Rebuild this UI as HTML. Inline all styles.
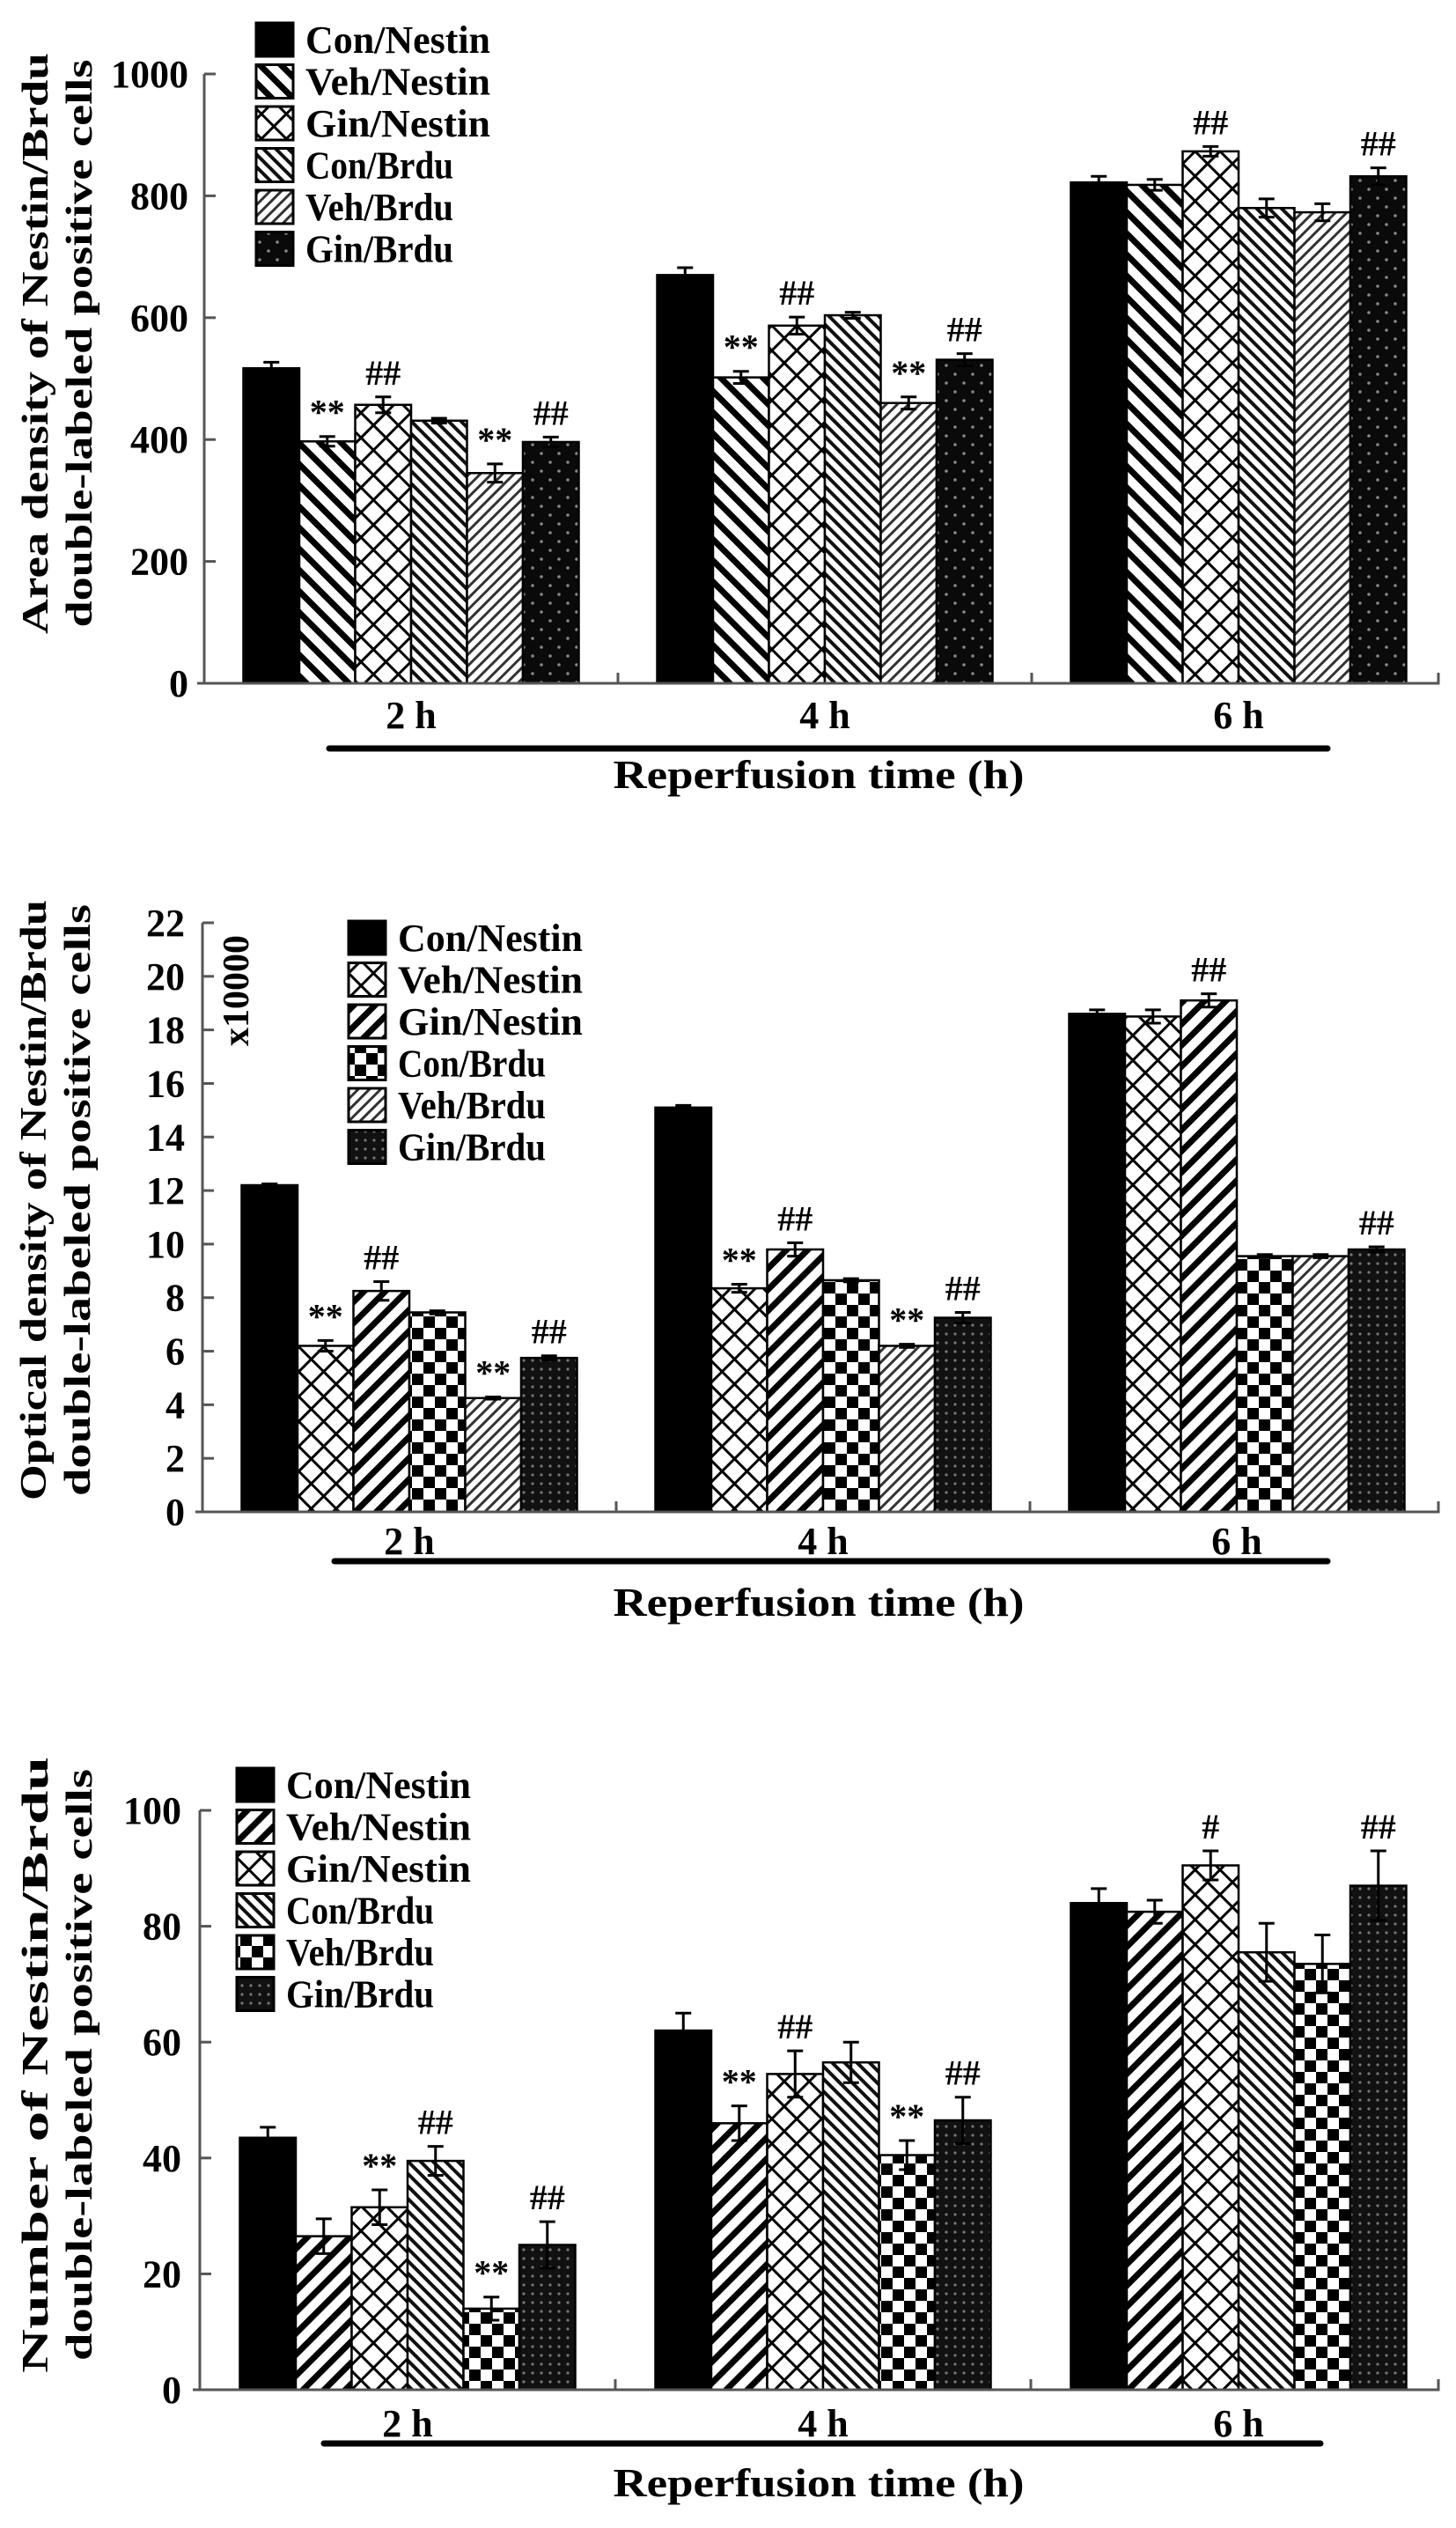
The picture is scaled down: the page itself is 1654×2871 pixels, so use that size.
<!DOCTYPE html>
<html><head><meta charset="utf-8"><style>
html,body{margin:0;padding:0;background:#fff;}
svg{display:block;}
text{font-family:"Liberation Serif",serif;font-weight:bold;fill:#000;}
</style></head>
<body>
<svg id="fig" xmlns="http://www.w3.org/2000/svg" width="1654" height="2871" viewBox="0 0 1654 2871">
<defs>
  <pattern id="pSolid" patternUnits="userSpaceOnUse" width="10" height="10"><rect width="10" height="10" fill="#000"/></pattern>
  <pattern id="pThickBack" patternUnits="userSpaceOnUse" width="17" height="17" patternTransform="rotate(-45)"><rect width="17" height="17" fill="#fff"/><rect width="7" height="17" fill="#000"/></pattern>
  <pattern id="pThickFwd" patternUnits="userSpaceOnUse" width="17" height="17" patternTransform="rotate(45)"><rect width="17" height="17" fill="#fff"/><rect width="7" height="17" fill="#000"/></pattern>
  <pattern id="pCross" patternUnits="userSpaceOnUse" width="20" height="20" patternTransform="rotate(45)"><rect width="20" height="20" fill="#fff"/><rect width="3" height="20" fill="#000"/><rect width="20" height="3" fill="#000"/></pattern>
  <pattern id="pThinBack" patternUnits="userSpaceOnUse" width="10" height="10" patternTransform="rotate(-45)"><rect width="10" height="10" fill="#fff"/><rect width="4" height="10" fill="#111"/></pattern>
  <pattern id="pThinFwd" patternUnits="userSpaceOnUse" width="9" height="9" patternTransform="rotate(45)"><rect width="9" height="9" fill="#fff"/><rect width="3" height="9" fill="#333"/></pattern>
  <pattern id="pChecker" patternUnits="userSpaceOnUse" width="26" height="26"><rect width="26" height="26" fill="#fff"/><rect width="13" height="13" fill="#000"/><rect x="13" y="13" width="13" height="13" fill="#000"/></pattern>
  <pattern id="pDots" patternUnits="userSpaceOnUse" width="20" height="20"><rect width="20" height="20" fill="#0a0a0a"/><circle cx="5" cy="5" r="1.8" fill="#888"/><circle cx="15" cy="15" r="1.8" fill="#888"/></pattern>
  <pattern id="pDotsDense" patternUnits="userSpaceOnUse" width="10" height="10"><rect width="10" height="10" fill="#111"/><circle cx="5" cy="5" r="1.6" fill="#777"/></pattern>
</defs>
</svg>
<script>
// ---------- shared ----------
const categories = ["2 h", "4 h", "6 h"];
const seriesNames = ["Con/Nestin", "Veh/Nestin", "Gin/Nestin", "Con/Brdu", "Veh/Brdu", "Gin/Brdu"];

// ---------- chart 1: area density ----------
const c1Ticks = [0, 200, 400, 600, 800, 1000];
const c1ConNestin = [517, 670, 822];
const c1VehNestin = [397, 502, 818];
const c1GinNestin = [457, 587, 873];
const c1ConBrdu = [431, 604, 780];
const c1VehBrdu = [345, 460, 773];
const c1GinBrdu = [396, 531, 832];
const c1ErrConNestin = [10, 12, 10];
const c1ErrVehNestin = [8, 10, 9];
const c1ErrGinNestin = [13, 14, 8];
const c1ErrConBrdu = [4, 5, 15];
const c1ErrVehBrdu = [15, 10, 14];
const c1ErrGinBrdu = [8, 10, 14];
const c1MarkConNestin = ["", "", ""];
const c1MarkVehNestin = ["**", "**", ""];
const c1MarkGinNestin = ["##", "##", "##"];
const c1MarkConBrdu = ["", "", ""];
const c1MarkVehBrdu = ["**", "**", ""];
const c1MarkGinBrdu = ["##", "##", "##"];

// ---------- chart 2: optical density ----------
const c2Ticks = [0, 2, 4, 6, 8, 10, 12, 14, 16, 18, 20, 22];
const c2ConNestin = [12.2, 15.1, 18.6];
const c2VehNestin = [6.2, 8.35, 18.5];
const c2GinNestin = [8.25, 9.8, 19.1];
const c2ConBrdu = [7.45, 8.65, 9.55];
const c2VehBrdu = [4.25, 6.2, 9.55];
const c2GinBrdu = [5.75, 7.25, 9.8];
const c2ErrConNestin = [0.05, 0.08, 0.15];
const c2ErrVehNestin = [0.2, 0.15, 0.25];
const c2ErrGinNestin = [0.35, 0.25, 0.25];
const c2ErrConBrdu = [0.06, 0.06, 0.06];
const c2ErrVehBrdu = [0.04, 0.06, 0.06];
const c2ErrGinBrdu = [0.08, 0.2, 0.1];
const c2MarkConNestin = ["", "", ""];
const c2MarkVehNestin = ["**", "**", ""];
const c2MarkGinNestin = ["##", "##", "##"];
const c2MarkConBrdu = ["", "", ""];
const c2MarkVehBrdu = ["**", "**", ""];
const c2MarkGinBrdu = ["##", "##", "##"];

// ---------- chart 3: number of cells ----------
const c3Ticks = [0, 20, 40, 60, 80, 100];
const c3ConNestin = [43.5, 62, 84];
const c3VehNestin = [26.5, 46, 82.5];
const c3GinNestin = [31.5, 54.5, 90.5];
const c3ConBrdu = [39.5, 56.5, 75.5];
const c3VehBrdu = [14, 40.5, 73.5];
const c3GinBrdu = [25, 46.5, 87];
const c3ErrConNestin = [1.8, 3, 2.5];
const c3ErrVehNestin = [3, 3, 2];
const c3ErrGinNestin = [3, 4, 2.5];
const c3ErrConBrdu = [2.5, 3.5, 5];
const c3ErrVehBrdu = [2, 2.5, 5];
const c3ErrGinBrdu = [4, 4, 6];
const c3MarkConNestin = ["", "", ""];
const c3MarkVehNestin = ["", "**", ""];
const c3MarkGinNestin = ["**", "##", "#"];
const c3MarkConBrdu = ["##", "", ""];
const c3MarkVehBrdu = ["**", "**", ""];
const c3MarkGinBrdu = ["##", "##", "##"];

const NS = "http://www.w3.org/2000/svg";
const svg = document.getElementById("fig");
function mk(tag, attrs, parent) {
  const e = document.createElementNS(NS, tag);
  for (const k in attrs) e.setAttribute(k, attrs[k]);
  (parent || svg).appendChild(e);
  return e;
}

function drawChart(cfg) {
  const g = mk("g", {});
  
  
  const x0 = cfg.x0, xEnd = 1634, catW = cfg.catW, barW = 63.5;
  const yScale = v => cfg.yZero - v * (cfg.yZero - cfg.yTop) / cfg.max;
  const groupCenter = i => x0 + catW * (i + 0.5);
  const barX = (gi, si) => groupCenter(gi) - 3 * barW + si * barW;

  cfg.series.forEach((vals, si) => {
    vals.forEach((v, gi) => {
      const x = barX(gi, si), y = yScale(v);
      const r = mk("rect", {x: x, y: y, width: barW, height: cfg.yZero - y, fill: "url(#" + cfg.patterns[si] + ")", stroke: "#000", "stroke-width": 2.5}, g);
      
      
      const e = cfg.errs[si][gi];
      const cx = x + barW / 2;
      const eb = mk("path", {d: "M" + cx + " " + yScale(v - e) + "V" + yScale(v + e) + "M" + (cx - 9) + " " + yScale(v + e) + "H" + (cx + 9) + "M" + (cx - 9) + " " + yScale(v - e) + "H" + (cx + 9), stroke: "#000", "stroke-width": 3, fill: "none"}, g);
      
      
      const m = cfg.marks[si][gi];
      if (m) {
        const t = mk("text", {x: cx, y: yScale(v + e) - 14, "text-anchor": "middle", "font-size": 40}, g);
        t.textContent = m;
        
        
      }
    });
  });

  const ya = mk("path", {d: "M" + x0 + " " + cfg.yTop + "V" + cfg.yZero, stroke: "#555", "stroke-width": 3, fill: "none"}, g);
  
  
  const xa = mk("path", {d: "M" + (x0 - 8) + " " + cfg.yZero + "H" + xEnd + "V" + (cfg.yZero - 12), stroke: "#555", "stroke-width": 3, fill: "none"}, g);
  
  
  for (let i = 1; i < categories.length; i++) {
    const tk = mk("path", {d: "M" + (x0 + catW * i) + " " + cfg.yZero + "v-12", stroke: "#555", "stroke-width": 3}, g);
    
    
  }
  cfg.ticks.forEach(v => {
    const y = yScale(v);
    const tk = mk("path", {d: "M" + x0 + " " + y + "h13", stroke: "#555", "stroke-width": 3}, g);
    
    
    const t = mk("text", {x: cfg.tickRight, y: y + 15, "text-anchor": "end", "font-size": 44}, g);
    t.textContent = v;
    
    
  });
  categories.forEach((c, i) => {
    const t = mk("text", {x: groupCenter(i), y: cfg.catLabelY + 15, "text-anchor": "middle", "font-size": 44}, g);
    t.textContent = c;
    
    
  });
  const bl = mk("path", {d: "M" + cfg.lineX1 + " " + cfg.lineY + "H" + cfg.lineX2, stroke: "#000", "stroke-width": 7, "stroke-linecap": "round"}, g);
  
  
  const xt = mk("text", {x: 930, y: cfg.titleY + 15, "text-anchor": "middle", "font-size": 46, textLength: 467, lengthAdjust: "spacingAndGlyphs"}, g);
  xt.textContent = "Reperfusion time (h)";
  
  

  cfg.yTitle.forEach((line, li) => {
    const cx = cfg.yTitleX[li], cy = cfg.yTitleY;
    const t = mk("text", {x: cx, y: cy, "text-anchor": "middle", "font-size": 42, transform: "rotate(-90 " + cx + " " + cy + ")", textLength: cfg.yTitleLen[li], lengthAdjust: "spacingAndGlyphs", dy: 14}, g);
    t.textContent = line;
    
    
  });

  const lg = mk("g", {}, g);
  
  
  seriesNames.forEach((s, si) => {
    const cy = cfg.legY0 + si * 47.5;
    const r = mk("rect", {x: cfg.legX, y: cy - 19, width: 42, height: 38, fill: "url(#" + cfg.patterns[si] + ")", stroke: "#000", "stroke-width": 3}, lg);
    
    
    const t = mk("text", {x: cfg.legX + 56, y: cy + 15, "font-size": 44, textLength: s.length * 21, lengthAdjust: "spacingAndGlyphs"}, lg);
    t.textContent = s;
    
    
  });
}

drawChart({
  name: "chart-area-density", x0: 232, catW: 470, yZero: 776, yTop: 84, max: 1000, ticks: c1Ticks, tickRight: 214,
  series: [c1ConNestin, c1VehNestin, c1GinNestin, c1ConBrdu, c1VehBrdu, c1GinBrdu],
  errs: [c1ErrConNestin, c1ErrVehNestin, c1ErrGinNestin, c1ErrConBrdu, c1ErrVehBrdu, c1ErrGinBrdu],
  marks: [c1MarkConNestin, c1MarkVehNestin, c1MarkGinNestin, c1MarkConBrdu, c1MarkVehBrdu, c1MarkGinBrdu],
  patterns: ["pSolid", "pThickBack", "pCross", "pThinBack", "pThinFwd", "pDots"],
  catLabelY: 812, lineX1: 374, lineX2: 1508, lineY: 850, titleY: 880,
  yTitle: ["Area density of Nestin/Brdu", "double-labeled positive cells"], yTitleX: [40, 90], yTitleY: 390, yTitleLen: [660, 645],
  legX: 291, legY0: 45
});
drawChart({
  name: "chart-optical-density", x0: 230, catW: 470, yZero: 1717, yTop: 1048, max: 22, ticks: c2Ticks, tickRight: 210,
  series: [c2ConNestin, c2VehNestin, c2GinNestin, c2ConBrdu, c2VehBrdu, c2GinBrdu],
  errs: [c2ErrConNestin, c2ErrVehNestin, c2ErrGinNestin, c2ErrConBrdu, c2ErrVehBrdu, c2ErrGinBrdu],
  marks: [c2MarkConNestin, c2MarkVehNestin, c2MarkGinNestin, c2MarkConBrdu, c2MarkVehBrdu, c2MarkGinBrdu],
  patterns: ["pSolid", "pCross", "pThickFwd", "pChecker", "pThinFwd", "pDotsDense"],
  catLabelY: 1750, lineX1: 380, lineX2: 1508, lineY: 1773, titleY: 1820,
  yTitle: ["Optical density of Nestin/Brdu", "double-labeled positive cells"], yTitleX: [38, 88], yTitleY: 1363, yTitleLen: [682, 672],
  legX: 396, legY0: 1065
});
drawChart({
  name: "chart-cell-number", x0: 227, catW: 472, yZero: 2714, yTop: 2056, max: 100, ticks: c3Ticks, tickRight: 206,
  series: [c3ConNestin, c3VehNestin, c3GinNestin, c3ConBrdu, c3VehBrdu, c3GinBrdu],
  errs: [c3ErrConNestin, c3ErrVehNestin, c3ErrGinNestin, c3ErrConBrdu, c3ErrVehBrdu, c3ErrGinBrdu],
  marks: [c3MarkConNestin, c3MarkVehNestin, c3MarkGinNestin, c3MarkConBrdu, c3MarkVehBrdu, c3MarkGinBrdu],
  patterns: ["pSolid", "pThickFwd", "pCross", "pThinBack", "pChecker", "pDotsDense"],
  catLabelY: 2752, lineX1: 368, lineX2: 1500, lineY: 2775, titleY: 2820,
  yTitle: ["Number of Nestin/Brdu", "double-labeled positive cells"], yTitleX: [40, 90], yTitleY: 2345, yTitleLen: [700, 672],
  legX: 269, legY0: 2027
});

const mult = mk("text", {x: 268, y: 1125, "text-anchor": "middle", "font-size": 42, transform: "rotate(-90 268 1125)", dy: 14});
mult.textContent = "x10000";


</script>
</body></html>
